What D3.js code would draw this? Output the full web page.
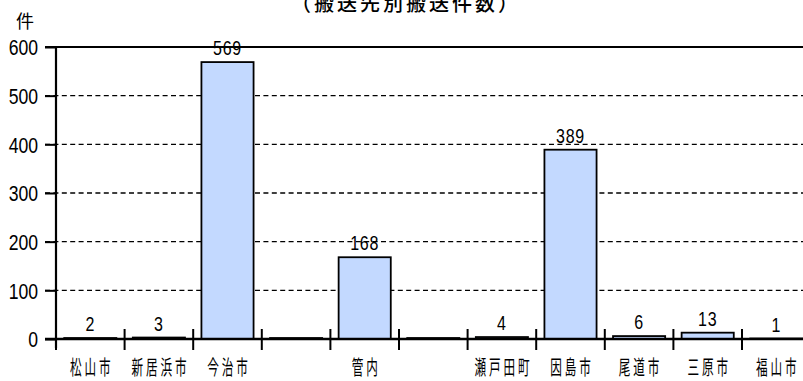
<!DOCTYPE html>
<html>
<head>
<meta charset="utf-8">
<script src="https://cdn.jsdelivr.net/npm/d3@7"></script>
<style>
  body { margin: 0; background: #fff; }
  svg { display: block; }
  .num { font-family: 'Liberation Sans', Arial, sans-serif; fill: #000; }
  .cjk { font-family: 'Noto Sans CJK JP', sans-serif; fill: #000; }
</style>
</head>
<body>
<div id="chart"></div>
<script>
// 搬送先別搬送件数
var categories = ['松山市', '新居浜市', '今治市', 'gap1', '管内', 'gap2', '瀬戸田町', '因島市', '尾道市', '三原市', '福山市'];
var catLabels  = ['松山市', '新居浜市', '今治市', '', '管内', '', '瀬戸田町', '因島市', '尾道市', '三原市', '福山市'];
var values     = [2, 3, 569, 2, 168, 2, 4, 389, 6, 13, 1];
var valueLabels = ['2', '3', '569', '', '168', '', '4', '389', '6', '13', '1'];
var yTicks = [0, 100, 200, 300, 400, 500, 600];

var svg_width = 803, svg_height = 381,
    plot_left = 56, plot_top = 47, plot_bottom = 339,
    band_step = 68.6,
    bar_fill = '#c3d9ff',
    //数字横向压缩
    num_squeeze = 0.8;

var svg = d3.select('#chart').append('svg')
    .attr('width', svg_width)
    .attr('height', svg_height);

var x = d3.scaleBand()
    .domain(categories)
    .range([plot_left, plot_left + band_step * categories.length])
    .paddingInner(0.24)
    .paddingOuter(0.12);

var y = d3.scaleLinear()
    .domain([0, 600])
    .range([plot_bottom, plot_top]);

// 网格线
svg.append('g').selectAll('line')
    .data(yTicks.filter(function (d) { return d > 0; }))
    .enter().append('line')
    .attr('x1', plot_left - 11)
    .attr('x2', svg_width)
    .attr('y1', function (d) { return y(d); })
    .attr('y2', function (d) { return y(d); })
    .attr('stroke', '#000')
    .attr('stroke-width', function (d) { return d === 600 ? 2 : 1.4; })
    .attr('stroke-dasharray', function (d) { return d === 600 ? null : '5,3.4'; });

// 柱子
svg.append('g').selectAll('rect')
    .data(values)
    .enter().append('rect')
    .attr('x', function (d, i) { return x(categories[i]); })
    .attr('y', function (d) { return y(d); })
    .attr('width', x.bandwidth())
    .attr('height', function (d) { return plot_bottom - y(d); })
    .attr('fill', bar_fill)
    .attr('stroke', '#000')
    .attr('stroke-width', 1.8);

// 数值
svg.append('g').selectAll('text')
    .data(values)
    .enter().append('text')
    .attr('class', 'num')
    .attr('transform', function (d, i) {
        return 'translate(' + (x(categories[i]) + x.bandwidth() / 2) + ',' + (y(d) - 7) + ') scale(' + num_squeeze + ',1)';
    })
    .attr('text-anchor', 'middle')
    .attr('font-size', 20)
    .attr('letter-spacing', 1)
    .text(function (d, i) { return valueLabels[i]; });

// y轴
var yAxis = d3.axisLeft(y).tickValues(yTicks).tickSize(11);
var gy = svg.append('g')
    .attr('transform', 'translate(' + plot_left + ',0)')
    .call(yAxis);
gy.attr('font-family', null).attr('font-size', null);
gy.select('.domain').remove();
gy.selectAll('.tick line').attr('stroke', '#000').attr('stroke-width', 2);
gy.selectAll('.tick text')
    .attr('class', 'num')
    .attr('font-size', 22)
    .attr('x', -18 / num_squeeze)
    .attr('transform', 'scale(' + num_squeeze + ',1)')
    .attr('dy', '0.36em');

svg.append('line')
    .attr('x1', plot_left).attr('x2', plot_left)
    .attr('y1', plot_top).attr('y2', plot_bottom + 9)
    .attr('stroke', '#000').attr('stroke-width', 2.2);

// x轴
svg.append('line')
    .attr('x1', plot_left - 11).attr('x2', svg_width)
    .attr('y1', plot_bottom).attr('y2', plot_bottom)
    .attr('stroke', '#000').attr('stroke-width', 2.4);

var pad = x.step() * x.paddingInner() / 2;
svg.append('g').selectAll('line')
    .data(categories)
    .enter().append('line')
    .attr('x1', function (d) { return x(d) - pad; })
    .attr('x2', function (d) { return x(d) - pad; })
    .attr('y1', plot_bottom - 10)
    .attr('y2', plot_bottom + 11)
    .attr('stroke', '#000')
    .attr('stroke-width', 2);

// 分类标签(横向压缩)
svg.append('g').selectAll('text')
    .data(categories)
    .enter().append('text')
    .attr('class', 'cjk')
    .attr('transform', function (d) {
        return 'translate(' + (x(d) + x.bandwidth() / 2 + 1.5) + ',375) scale(0.58,1)';
    })
    .attr('text-anchor', 'middle')
    .attr('font-size', 20)
    .attr('letter-spacing', 5)
    .text(function (d, i) { return catLabels[i]; });

// 单位
svg.append('text')
    .attr('class', 'cjk')
    .attr('x', 25).attr('y', 28)
    .attr('text-anchor', 'middle')
    .attr('font-size', 18)
    .text('件');

// 标题
svg.append('text')
    .attr('class', 'cjk')
    .attr('x', 406).attr('y', 11)
    .attr('text-anchor', 'middle')
    .attr('font-size', 20)
    .attr('font-weight', 500)
    .attr('letter-spacing', 3)
    .text('（搬送先別搬送件数）');
</script>
</body>
</html>
